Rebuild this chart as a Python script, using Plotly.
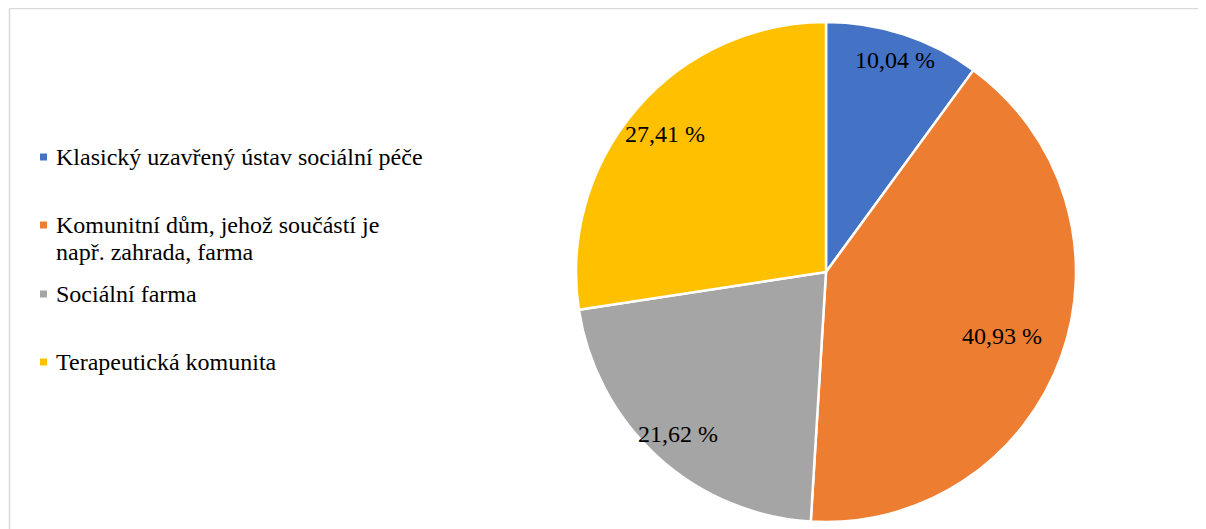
import math
import plotly.graph_objects as go

# data
kategorie = ['Klasický uzavřený ústav sociální péče',
             'Komunitní dům, jehož součástí je<br>např. zahrada, farma',
             'Sociální farma',
             'Terapeutická komunita']
podily = [10.04, 40.93, 21.62, 27.41]
barvy = ['#4472C4', '#ED7D31', '#A5A5A5', '#FFC000']

W, H = 1206, 529
FONT = 'Liberation Serif, Times New Roman, serif'
FS = 24

popisky = [f'{v:.2f}'.replace('.', ',') + ' %' for v in podily]

# kolac: stred a polomer v px
CX, CY, R = 818, 264, 250

fig = go.Figure()
fig.add_trace(go.Pie(
    labels=kategorie, values=podily, textinfo='none',
    sort=False, direction='clockwise', rotation=0,
    marker=dict(colors=barvy, line=dict(color='white', width=2.5)),
    domain=dict(x=[(CX - R) / W, (CX + R) / W], y=[1 - (CY + R) / H, 1 - (CY - R) / H]),
    showlegend=False, hoverinfo='label+percent',
))

# popisky dat - na stredu vysece, vzdalenost od stredu jako v originale
polomery = [0.89, 0.75, 0.88, 0.85]
celkem = sum(podily)
kum = 0
for v, txt, rf in zip(podily, popisky, polomery):
    uhel = (kum + v / 2) / celkem * 2 * math.pi
    kum += v
    px_x = CX + rf * R * math.sin(uhel)
    px_y = CY - rf * R * math.cos(uhel)
    fig.add_annotation(x=px_x / W, y=1 - px_y / H, xref='paper', yref='paper',
                       text=txt, showarrow=False, xanchor='center', yanchor='middle',
                       font=dict(family=FONT, size=FS, color='black'))

# legenda rucne (mezery mezi polozkami jako v originale)
leg_y = [149, 217, 286, 354]
RADEK = 27
for nazev, barva, yy in zip(kategorie, barvy, leg_y):
    fig.add_shape(type='rect', xref='paper', yref='paper',
                  x0=32 / W, x1=39 / W, y0=1 - (yy + 3.5) / H, y1=1 - (yy - 3.5) / H,
                  fillcolor=barva, line=dict(width=0))
    for i, radek in enumerate(nazev.split('<br>')):
        fig.add_annotation(x=46 / W, y=1 - (yy + i * RADEK) / H, xref='paper', yref='paper',
                           text=radek, showarrow=False, xanchor='left', yanchor='middle',
                           align='left', font=dict(family=FONT, size=FS, color='black'))

# ramecek
fig.add_shape(type='line', xref='paper', yref='paper', x0=1.5 / W, x1=1, y0=1 - 0.5 / H, y1=1 - 0.5 / H,
              line=dict(color='#d9d9d9', width=1.5))
fig.add_shape(type='line', xref='paper', yref='paper', x0=1.5 / W, x1=1.5 / W, y0=0, y1=1 - 0.5 / H,
              line=dict(color='#d9d9d9', width=1.5))

fig.update_layout(width=W, height=H, margin=dict(l=0, r=0, t=0, b=0),
                  paper_bgcolor='white', plot_bgcolor='white')
fig.write_html('out.html')
